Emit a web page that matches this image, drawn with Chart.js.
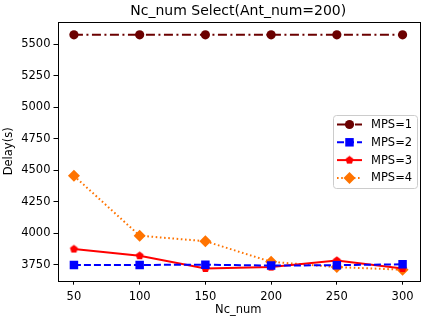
<!DOCTYPE html>
<html>
<head>
<meta charset="utf-8">
<script src="https://cdn.jsdelivr.net/npm/chart.js@4.4.1/dist/chart.umd.min.js"></script>
<style>
  html, body { margin: 0; padding: 0; background: #fff; }
  #wrap { width: 425px; height: 318px; }
</style>
</head>
<body>
<div id="wrap"><canvas id="chart" width="425" height="318"></canvas></div>
<script>
// values
const ncNum = [50, 100, 150, 200, 250, 300];
const mps1 = [5575, 5575, 5575, 5575, 5575, 5575];
const mps2 = [3750, 3750, 3752, 3745, 3748, 3755];
const mps3 = [3876, 3823, 3722, 3733, 3785, 3722];
const mps4 = [4457, 3982, 3938, 3775, 3733, 3712];
const seriesLabels = ["MPS=1", "MPS=2", "MPS=3", "MPS=4"];
const xTicks = [50, 100, 150, 200, 250, 300];
const yTicks = [3750, 4000, 4250, 4500, 4750, 5000, 5250, 5500];

const FONT = "'DejaVu Sans', sans-serif";

// small red pentagon marker
function pentagon(color, r) {
    const c = document.createElement("canvas");
    const s = Math.ceil(r * 2 + 2);
    c.width = s; c.height = s;
    const g = c.getContext("2d");
    g.beginPath();
    for (let i = 0; i < 5; i++) {
        const a = -Math.PI / 2 + i * 2 * Math.PI / 5;
        const px = s / 2 + r * Math.cos(a), py = s / 2 + r * Math.sin(a);
        i ? g.lineTo(px, py) : g.moveTo(px, py);
    }
    g.closePath();
    g.fillStyle = color;
    g.fill();
    return c;
}

const pts = arr => ncNum.map((x, i) => ({ x: x, y: arr[i] }));

const datasets = [
    { label: seriesLabels[0], data: pts(mps1), borderColor: "#6b0000", backgroundColor: "#6b0000",
      borderWidth: 2, borderDash: [9, 3.5, 2, 3.5], pointStyle: "circle", pointRadius: 4.6 },
    { label: seriesLabels[1], data: pts(mps2), borderColor: "#0000ff", backgroundColor: "#0000ff",
      borderWidth: 2, borderDash: [7, 3], pointStyle: "rect", pointRadius: 6 },
    { label: seriesLabels[2], data: pts(mps3), borderColor: "#ff0000", backgroundColor: "#ff0000",
      borderWidth: 2, borderDash: [], pointStyle: pentagon("#ff0000", 4.2), pointRadius: 4 },
    { label: seriesLabels[3], data: pts(mps4), borderColor: "#ff7300", backgroundColor: "#ff7300",
      borderWidth: 2, borderDash: [1.6, 2.6], pointStyle: "rectRot", pointRadius: 6 }
];
datasets.forEach(d => {
    d.pointBorderWidth = 0;
    d.pointHoverRadius = d.pointRadius;
    d.tension = 0;
    d.fill = false;
});

const framePlugin = {
    id: "frame",
    afterDraw(chart) {
        const { ctx, chartArea: a } = chart;
        ctx.save();
        ctx.strokeStyle = "#000";
        ctx.lineWidth = 1;
        ctx.strokeRect(Math.round(a.left) + 0.5, Math.round(a.top) + 0.5,
            Math.round(a.right - a.left), Math.round(a.bottom - a.top));

        // title centred on the plot
        ctx.fillStyle = "#000";
        ctx.font = "14px " + FONT;
        ctx.textAlign = "center";
        ctx.textBaseline = "middle";
        ctx.fillText("Nc_num Select(Ant_num=200)", (a.left + a.right) / 2, 11);

        // legend box inside the plot
        const bx = 333.5, by = 115.5, bw = 84, bh = 73;
        ctx.fillStyle = "rgba(255,255,255,0.8)";
        ctx.strokeStyle = "#cccccc";
        ctx.beginPath();
        ctx.roundRect(bx, by, bw, bh, 3);
        ctx.fill();
        ctx.stroke();
        ctx.font = "11.5px " + FONT;
        ctx.textAlign = "left";
        chart.data.datasets.forEach((d, i) => {
            const y = 124.5 + i * 17.8;
            ctx.strokeStyle = d.borderColor;
            ctx.lineWidth = d.borderWidth;
            ctx.setLineDash(d.borderDash);
            ctx.beginPath();
            ctx.moveTo(337, y);
            ctx.lineTo(362, y);
            ctx.stroke();
            ctx.setLineDash([]);
            ctx.fillStyle = d.backgroundColor;
            Chart.helpers.drawPoint(ctx, { pointStyle: d.pointStyle, radius: d.pointRadius, borderWidth: 0 }, 349.5, y);
            ctx.fillStyle = "#000";
            ctx.fillText(d.label, 371, y + 0.5);
        });
        ctx.restore();
    }
};

new Chart(document.getElementById("chart"), {
    type: "line",
    data: { datasets: datasets },
    options: {
        responsive: false,
        animation: false,
        devicePixelRatio: 1,
        layout: { padding: { left: 0, right: 3.3, top: 22, bottom: 0 } },
        plugins: { legend: { display: false }, title: { display: false }, tooltip: { enabled: false } },
        scales: {
            x: {
                type: "linear", min: 37.5, max: 312.5,
                afterFit: s => { s.height = 37.3; },
                afterBuildTicks: s => { s.ticks = xTicks.map(v => ({ value: v })); },
                grid: { drawOnChartArea: false, tickLength: 4, color: "#000" },
                border: { display: false },
                ticks: { color: "#000", padding: 5, maxRotation: 0, callback: v => String(v),
                    font: { family: FONT, size: 11.5 } },
                title: { display: true, text: "Nc_num", color: "#000", padding: { top: 0, bottom: 1.5 },
                    font: { family: FONT, size: 11.5 } }
            },
            y: {
                type: "linear", min: 3625, max: 5677,
                afterFit: s => { s.width = 57.5; },
                afterBuildTicks: s => { s.ticks = yTicks.map(v => ({ value: v })); },
                grid: { drawOnChartArea: false, tickLength: 4, color: "#000" },
                border: { display: false },
                ticks: { color: "#000", padding: 3, callback: v => String(v),
                    font: { family: FONT, size: 11.5 } },
                title: { display: true, text: "Delay(s)", color: "#000", padding: { top: 2, bottom: 0 },
                    font: { family: FONT, size: 11.5 } }
            }
        }
    },
    plugins: [framePlugin]
});
</script>
</body>
</html>
